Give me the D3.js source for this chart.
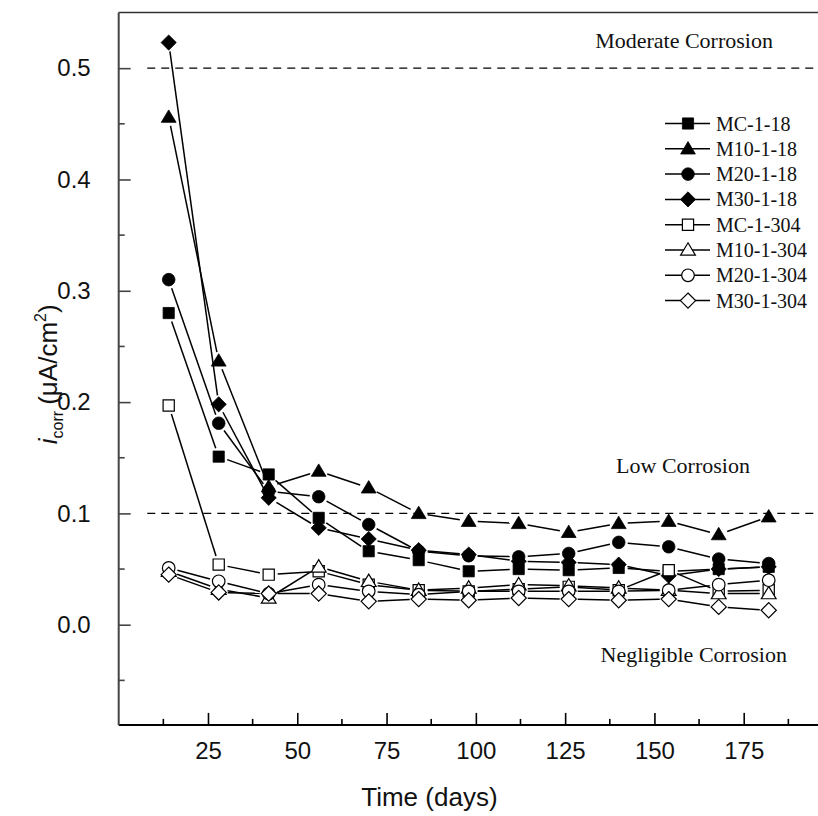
<!DOCTYPE html>
<html>
<head>
<meta charset="utf-8">
<script src="https://cdn.jsdelivr.net/npm/d3@7"></script>
<style>
  html, body { margin: 0; padding: 0; background: #fff; overflow: hidden; }
  svg { display: block; }
</style>
</head>
<body>
<div id="chart-container"></div>
<script>
const svgWidth = 818,
    svgHeight = 816;

// data
const days = [14, 28, 42, 56, 70, 84, 98, 112, 126, 140, 154, 168, 182];
const seriesNames = ["MC-1-18", "M10-1-18", "M20-1-18", "M30-1-18",
    "MC-1-304", "M10-1-304", "M20-1-304", "M30-1-304"];
const mc118 = [0.280, 0.151, 0.135, 0.096, 0.066, 0.058, 0.048, 0.050, 0.049, 0.051, 0.048, 0.050, 0.052];
const m10118 = [0.456, 0.237, 0.124, 0.138, 0.123, 0.100, 0.093, 0.091, 0.083, 0.091, 0.093, 0.081, 0.097];
const m20118 = [0.310, 0.181, 0.120, 0.115, 0.090, 0.066, 0.062, 0.061, 0.064, 0.074, 0.070, 0.059, 0.055];
const m30118 = [0.523, 0.198, 0.114, 0.087, 0.077, 0.067, 0.063, 0.057, 0.056, 0.054, 0.044, 0.050, 0.052];
const mc1304 = [0.197, 0.054, 0.045, 0.048, 0.036, 0.031, 0.030, 0.032, 0.034, 0.031, 0.049, 0.030, 0.031];
const m101304 = [0.048, 0.032, 0.024, 0.052, 0.039, 0.031, 0.033, 0.036, 0.035, 0.033, 0.031, 0.028, 0.028];
const m201304 = [0.051, 0.039, 0.028, 0.036, 0.030, 0.027, 0.030, 0.030, 0.030, 0.030, 0.031, 0.036, 0.040];
const m301304 = [0.045, 0.029, 0.028, 0.028, 0.021, 0.023, 0.022, 0.024, 0.023, 0.022, 0.023, 0.016, 0.013];
const seriesValues = [mc118, m10118, m20118, m30118, mc1304, m101304, m201304, m301304];
const shapes = ["square", "triangle", "circle", "diamond", "square", "triangle", "circle", "diamond"];
const filled = [true, true, true, true, false, false, false, false];

const xTicks = [25, 50, 75, 100, 125, 150, 175];
const xMinor = [12.5, 37.5, 62.5, 87.5, 112.5, 137.5, 162.5, 187.5];
const yTicks = [0.0, 0.1, 0.2, 0.3, 0.4, 0.5];
const yMinor = [-0.05, 0.05, 0.15, 0.25, 0.35, 0.45];
const levels = [0.5, 0.1];
const levelStart = 8;
const zones = [
    { label: "Moderate Corrosion", day: 158.3, value: 0.518 },
    { label: "Low Corrosion", day: 158, value: 0.1363 },
    { label: "Negligible Corrosion", day: 161, value: -0.0332 }
];

// scales
const xScale = d3.scaleLinear().domain([0, 200]).range([118.7, 833]);
const yScale = d3.scaleLinear().domain([-0.09, 0.55]).range([724.9, 12.5]);

const svg = d3.select("#chart-container").append("svg")
    .attr("width", svgWidth)
    .attr("height", svgHeight);

const x0 = xScale(0), yBot = yScale(-0.09), yTop = yScale(0.55);

// marker path generator
function markerPath(shape) {
    if (shape === "square") return "M-5.6,-5.6H5.6V5.6H-5.6Z";
    if (shape === "triangle") return "M0,-7.2L7.4,5.2L-7.4,5.2Z";
    if (shape === "diamond") return "M0,-7.6L7.6,0L0,7.6L-7.6,0Z";
    const r = 6.3;
    return "M" + r + ",0A" + r + "," + r + " 0 1,1 " + (-r) + ",0A" + r + "," + r + " 0 1,1 " + r + ",0Z";
}

// frame and axes
svg.append("line")
    .attr("x1", x0).attr("x2", svgWidth + 20)
    .attr("y1", yTop).attr("y2", yTop)
    .attr("stroke", "#333").attr("stroke-width", 1.6);

const xAxis = d3.axisBottom(xScale).tickValues(xTicks)
    .tickSize(-12).tickPadding(17).tickFormat(d3.format("d"));
const gx = svg.append("g")
    .attr("transform", "translate(0," + yBot + ")")
    .call(xAxis);
gx.select(".domain").attr("stroke", "#000").attr("stroke-width", 2)
    .attr("d", "M" + x0 + ",0H" + (svgWidth + 20));
gx.selectAll(".tick line").attr("stroke", "#000").attr("stroke-width", 1.6);
gx.selectAll(".tick text").attr("font-family", "Liberation Sans, Arial, sans-serif")
    .attr("font-size", 24).attr("fill", "#111");
gx.selectAll(".minor").data(xMinor).join("line")
    .attr("class", "minor")
    .attr("x1", (d) => xScale(d)).attr("x2", (d) => xScale(d))
    .attr("y1", 0).attr("y2", -6)
    .attr("stroke", "#000").attr("stroke-width", 1.6);

const yAxis = d3.axisLeft(yScale).tickValues(yTicks)
    .tickSize(-12).tickPadding(28).tickFormat(d3.format(".1f"));
const gy = svg.append("g")
    .attr("transform", "translate(" + x0 + ",0)")
    .call(yAxis);
gy.select(".domain").attr("stroke", "#444").attr("stroke-width", 2)
    .attr("d", "M0," + yTop + "V" + yBot);
gy.selectAll(".tick line").attr("stroke", "#444").attr("stroke-width", 1.6);
gy.selectAll(".tick text").attr("font-family", "Liberation Sans, Arial, sans-serif")
    .attr("font-size", 24).attr("fill", "#111");
gy.selectAll(".minor").data(yMinor).join("line")
    .attr("class", "minor")
    .attr("x1", 0).attr("x2", 6)
    .attr("y1", (d) => yScale(d)).attr("y2", (d) => yScale(d))
    .attr("stroke", "#444").attr("stroke-width", 1.6);

// level lines
svg.selectAll(".level").data(levels).join("line")
    .attr("class", "level")
    .attr("x1", xScale(levelStart)).attr("x2", svgWidth + 10)
    .attr("y1", (d) => yScale(d)).attr("y2", (d) => yScale(d))
    .attr("stroke", "#000").attr("stroke-width", 1.4)
    .attr("stroke-dasharray", "8,6");

svg.selectAll(".zone").data(zones).join("text")
    .attr("class", "zone")
    .attr("x", (d) => xScale(d.day))
    .attr("y", (d) => yScale(d.value))
    .attr("text-anchor", "middle")
    .attr("font-family", "Liberation Serif, Times New Roman, serif")
    .attr("font-size", 22)
    .attr("fill", "#111")
    .text((d) => d.label);

// series lines (with gaps around markers) and markers
const gap = 9;
seriesValues.forEach((vals, s) => {
    const pts = days.map((d, i) => [xScale(d), yScale(vals[i])]);
    const segs = [];
    for (let i = 0; i < pts.length - 1; i++) {
        const [ax, ay] = pts[i], [bx, by] = pts[i + 1];
        const len = Math.hypot(bx - ax, by - ay);
        if (len <= 2 * gap) continue;
        const ux = (bx - ax) / len, uy = (by - ay) / len;
        segs.push([ax + ux * gap, ay + uy * gap, bx - ux * gap, by - uy * gap]);
    }
    svg.append("g").selectAll("line").data(segs).join("line")
        .attr("x1", (d) => d[0]).attr("y1", (d) => d[1])
        .attr("x2", (d) => d[2]).attr("y2", (d) => d[3])
        .attr("stroke", "#000").attr("stroke-width", 1.5);
});

seriesValues.forEach((vals, s) => {
    svg.append("g").selectAll("path").data(vals).join("path")
        .attr("transform", (d, i) => "translate(" + xScale(days[i]) + "," + yScale(d) + ")")
        .attr("d", markerPath(shapes[s]))
        .attr("fill", filled[s] ? "#000" : "#fff")
        .attr("stroke", "#000")
        .attr("stroke-width", filled[s] ? 0.8 : 1.2);
});

// legend
const legend = svg.append("g").attr("transform", "translate(665,123.5)");
const rows = legend.selectAll("g").data(seriesNames).join("g")
    .attr("transform", (d, i) => "translate(0," + (i * 25.3) + ")");
rows.append("line")
    .attr("x1", 0).attr("x2", 45).attr("y1", 0).attr("y2", 0)
    .attr("stroke", "#000").attr("stroke-width", 1.5);
rows.append("path")
    .attr("transform", "translate(23,0)")
    .attr("d", (d, i) => markerPath(shapes[i]))
    .attr("fill", (d, i) => filled[i] ? "#000" : "#fff")
    .attr("stroke", "#000")
    .attr("stroke-width", (d, i) => filled[i] ? 0.8 : 1.2);
rows.append("text")
    .attr("x", 51).attr("y", 7)
    .attr("font-family", "Liberation Serif, Times New Roman, serif")
    .attr("font-size", 20)
    .attr("fill", "#111")
    .text((d) => d);

// axis titles
svg.append("text")
    .attr("x", xScale(87)).attr("y", 806)
    .attr("text-anchor", "middle")
    .attr("font-family", "Liberation Sans, Arial, sans-serif")
    .attr("font-size", 26).attr("fill", "#111")
    .text("Time (days)");

const yTitle = svg.append("text")
    .attr("transform", "translate(57," + yScale(0.225) + ") rotate(-90)")
    .attr("text-anchor", "middle")
    .attr("font-family", "Liberation Sans, Arial, sans-serif")
    .attr("font-size", 26).attr("fill", "#111");
yTitle.append("tspan").attr("font-style", "italic").text("i");
yTitle.append("tspan").attr("font-size", 16).attr("dy", 6).text("corr");
yTitle.append("tspan").attr("dy", -6).attr("dx", 6).text("(μA/cm");
yTitle.append("tspan").attr("font-size", 16).attr("dy", -11).text("2");
yTitle.append("tspan").attr("dy", 11).text(")");
</script>
</body>
</html>
